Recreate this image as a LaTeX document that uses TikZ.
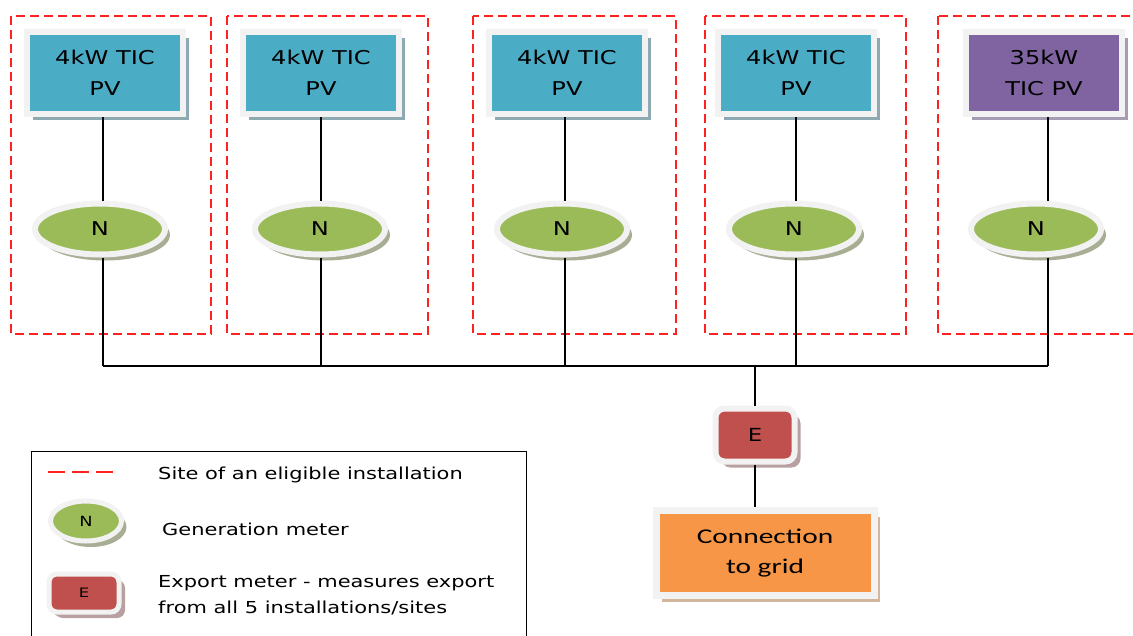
\documentclass[tikz,border=0pt]{standalone}
\usepackage{fontspec}
\setmainfont[FakeStretch=1.27]{DejaVu Sans}
\newfontfamily\gridfont[FakeStretch=1.4]{Carlito}
\usetikzlibrary{shapes.geometric,shadows}
\definecolor{pvblue}{HTML}{4BACC6}
\definecolor{pvpurple}{HTML}{8064A2}
\definecolor{metergreen}{HTML}{9BBB59}
\definecolor{meterred}{HTML}{C0504D}
\definecolor{gridorange}{HTML}{F79646}
\definecolor{framegray}{HTML}{F2F2F2}
\definecolor{sitered}{HTML}{FF2020}
\definecolor{shadowblue}{HTML}{8FA9B2}
\definecolor{shadowpurple}{HTML}{A59BB2}
\definecolor{shadowgreen}{HTML}{A8AE94}
\definecolor{shadowred}{HTML}{B8A0A0}
\definecolor{shadoworange}{HTML}{D2B69E}

\begin{document}
\begin{tikzpicture}[x=1pt, y=-1pt,
  sitebox/.style={draw=sitered, line width=1.5pt, dash pattern=on 9pt off 5pt},
  pvbox/.style={rectangle, draw=framegray, line width=6pt, fill=pvblue,
    minimum width=156pt, minimum height=82pt, inner sep=0pt, align=center,
    font=\fontsize{19}{31}\selectfont,
    drop shadow={shadow xshift=6pt, shadow yshift=-6pt, fill=shadowblue, opacity=1}},
  bigpvbox/.style={pvbox, fill=pvpurple,
    drop shadow={shadow xshift=6pt, shadow yshift=-6pt, fill=shadowpurple, opacity=1}},
  genmeter/.style={ellipse, draw=framegray, line width=6pt, fill=metergreen,
    minimum width=130pt, minimum height=51pt, inner sep=0pt,
    font=\fontsize{19}{22}\selectfont,
    drop shadow={shadow xshift=5pt, shadow yshift=-6pt, fill=shadowgreen, opacity=1}},
  expmeter/.style={rectangle, rounded corners=9pt, draw=framegray, line width=6pt,
    fill=meterred, minimum width=79pt, minimum height=53pt, inner sep=0pt,
    font=\fontsize{18}{22}\selectfont,
    drop shadow={shadow xshift=6pt, shadow yshift=-6pt, fill=shadowred, opacity=1}},
  wire/.style={draw=black, line width=1.3pt},
  legtext/.style={anchor=base west, inner sep=0pt, font=\fontsize{16.5}{20}\selectfont}]
\useasboundingbox (0,0) rectangle (1133,635);

% Sites of eligible installations
\draw[sitebox] (11,16) rectangle (211,334);
\draw[sitebox] (227,16) rectangle (428,334);
\draw[sitebox] (473,16) rectangle (676,334);
\draw[sitebox] (705,16) rectangle (906,334);
\draw[sitebox] (938,16) rectangle (1150,334);

% PV installations
\node[pvbox] (pv1) at (105,73) {4kW TIC\\PV};
\node[pvbox] (pv2) at (321,73) {4kW TIC\\PV};
\node[pvbox] (pv3) at (567,73) {4kW TIC\\PV};
\node[pvbox] (pv4) at (796,73) {4kW TIC\\PV};
\node[bigpvbox] (pv5) at (1044,73) {35kW\\TIC PV};

% Generation meters
\node[genmeter] (gen1) at (100,229) {N};
\node[genmeter] (gen2) at (320,229) {N};
\node[genmeter] (gen3) at (562,229) {N};
\node[genmeter] (gen4) at (794,229) {N};
\node[genmeter] (gen5) at (1036,229) {N};

\draw[wire] (pv1.south -| 103,0) -- (gen1.north -| 103,0);
\draw[wire] (pv2.south -| 321,0) -- (gen2.north -| 321,0);
\draw[wire] (pv3.south -| 565,0) -- (gen3.north -| 565,0);
\draw[wire] (pv4.south -| 796,0) -- (gen4.north -| 796,0);
\draw[wire] (pv5.south -| 1048,0) -- (gen5.north -| 1048,0);

% Bus to export meter
\coordinate (bus1) at (103,366);
\coordinate (bus2) at (321,366);
\coordinate (bus3) at (565,366);
\coordinate (bus4) at (796,366);
\coordinate (bus5) at (1048,366);
\coordinate (busE) at (755,366);
\draw[wire] (gen1.south -| bus1) -- (bus1);
\draw[wire] (gen2.south -| bus2) -- (bus2);
\draw[wire] (gen3.south -| bus3) -- (bus3);
\draw[wire] (gen4.south -| bus4) -- (bus4);
\draw[wire] (gen5.south -| bus5) -- (bus5);
\draw[wire] (bus1) -- (bus5);

\node[expmeter] (emeter) at (755,435) {E};
\node[rectangle, draw=framegray, line width=7pt, fill=gridorange,
  minimum width=218pt, minimum height=85pt, inner sep=0pt, align=center,
  font=\gridfont\fontsize{21}{30}\selectfont,
  drop shadow={shadow xshift=6pt, shadow yshift=-6pt, fill=shadoworange, opacity=1}]
  (grid) at (765,553) {Connection\\to grid};
\draw[wire] (busE) -- (emeter);
\draw[wire] (emeter) -- (emeter |- grid.north);

% Legend
\draw[line width=1pt] (31,645) -- (31,451) -- (526,451) -- (526,645);
\coordinate (legdashA) at (48,472);
\coordinate (legdashB) at (114,472);
\draw[draw=sitered, line width=1.5pt, dash pattern=on 17pt off 7pt] (legdashA) -- (legdashB);
\node[legtext] (legsite) at (158,479) {Site of an eligible installation};
\node[genmeter, line width=5pt, minimum width=71pt, minimum height=40pt,
  font=\fontsize{14}{16}\selectfont,
  drop shadow={shadow xshift=4pt, shadow yshift=-5pt, fill=shadowgreen, opacity=1}]
  (leggen) at (86,521) {N};
\node[legtext] (leggentext) at (162,535) {Generation meter};
\node[expmeter, line width=5pt, minimum width=70pt, minimum height=38pt,
  rounded corners=8pt, font=\fontsize{13}{16}\selectfont,
  drop shadow={shadow xshift=4pt, shadow yshift=-5pt, fill=shadowred, opacity=1}]
  (legexp) at (84,593) {E};
\node[legtext] (legexptext) at (158,587) {Export meter - measures export};
\node[legtext] (legexptext2) at (158,613) {from all 5 installations/sites};
\end{tikzpicture}
\end{document}
